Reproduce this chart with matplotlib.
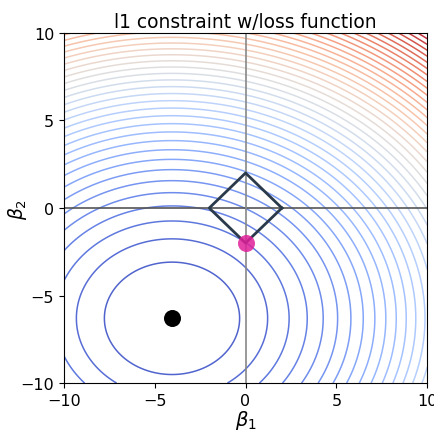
import matplotlib
matplotlib.use('Agg')
import matplotlib.pyplot as plt
import numpy as np

# loss surface: elliptical bowl around the unconstrained minimum
ols_beta = [-4.05, -6.3]     # black point
scale_b1 = 1.16              # ellipse stretch along beta1
lasso_beta = [0.0, -2.0]     # pink point (l1 solution)
l1_radius = 2.0              # diamond |b1| + |b2| <= 2

b1 = np.linspace(-10, 10, 400)
b2 = np.linspace(-10, 10, 400)
B1, B2 = np.meshgrid(b1, b2)
Z = ((B1 - ols_beta[0]) / scale_b1) ** 2 + (B2 - ols_beta[1]) ** 2

plt.rcParams['font.size'] = 11.5
fig = plt.figure(figsize=(4.35, 4.35), dpi=100)
ax = fig.add_axes([0.147, 0.117, 0.835, 0.805])

levels = np.arange(0, Z.max(), 10.3)
ax.contour(B1, B2, Z, levels=levels, cmap='coolwarm', linewidths=1.1, alpha=0.92)

ax.axhline(0, color='#555555', linewidth=1.2, zorder=2)
ax.axvline(0, color='#888888', linewidth=1.2, zorder=2)

# l1 ball
t = np.array([0, 1, 2, 3, 0])
dx = np.array([1, 0, -1, 0])[t] * l1_radius
dy = np.array([0, 1, 0, -1])[t] * l1_radius
ax.plot(dx, dy, color='#2b3a4a', linewidth=2, zorder=3)

ax.scatter([lasso_beta[0]], [lasso_beta[1]], s=150, color='#e0209a', alpha=0.85, zorder=4, linewidths=0)
ax.scatter([ols_beta[0]], [ols_beta[1]], s=150, color='black', zorder=4, linewidths=0)

ax.set_xlim(-10, 10)
ax.set_ylim(-10, 10)
ax.set_xticks([-10, -5, 0, 5, 10])
ax.set_yticks([-10, -5, 0, 5, 10])
ax.set_xlabel(r'$\beta_1$', fontsize=14, labelpad=0)
ax.set_ylabel(r'$\beta_2$', fontsize=13.5)
ax.yaxis.set_label_coords(-0.095, 0.5)
ax.set_title('l1 constraint w/loss function', fontsize=13.4, pad=4)

fig.savefig('out.png', dpi=100)
